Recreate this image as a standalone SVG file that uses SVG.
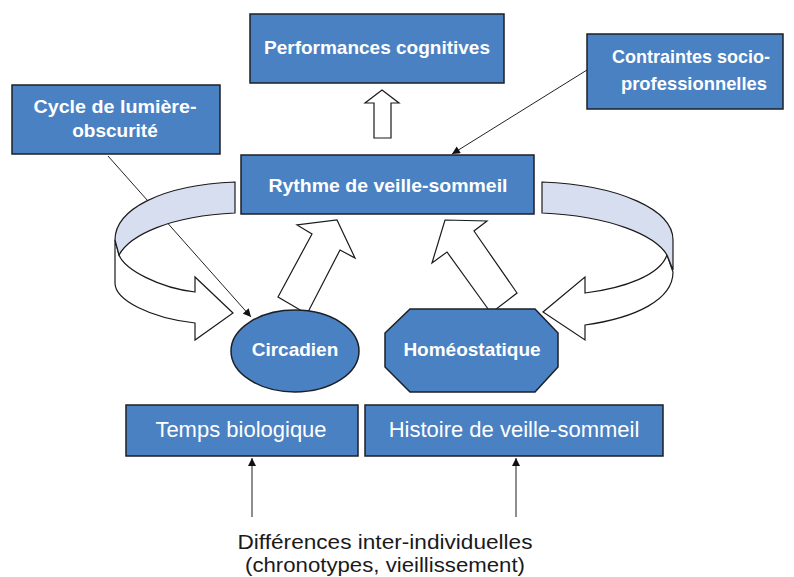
<svg xmlns="http://www.w3.org/2000/svg" width="794" height="577" viewBox="0 0 794 577">
<defs>
<style>
.box{fill:#4a81c2;stroke:#1c1f26;stroke-width:1.5}
.lb{font-family:"Liberation Sans",Arial,sans-serif;font-weight:bold;font-size:19px;fill:#ffffff;text-anchor:middle}
.lr{font-family:"Liberation Sans",Arial,sans-serif;font-size:22px;fill:#ffffff;text-anchor:middle}
.cap{font-family:"Liberation Sans",Arial,sans-serif;font-size:20px;fill:#1a1a1a;text-anchor:middle}
.thin{fill:none;stroke:#222;stroke-width:1}
.gray{fill:none;stroke:#444;stroke-width:1.2}
.hollow{fill:#ffffff;stroke:#1a1a1a;stroke-width:1.2;stroke-linejoin:miter}
.band{fill:#d6deef;stroke:#1a1a1a;stroke-width:1.2}
</style>
<marker id="ah" viewBox="0 0 10 10" refX="10" refY="5" markerWidth="9" markerHeight="8" markerUnits="userSpaceOnUse" orient="auto">
<path d="M0,0 L10,5 L0,10 Z" fill="#111"/>
</marker>
</defs>
<rect width="794" height="577" fill="#ffffff"/>

<g id="connectors">
<line class="thin" x1="587" y1="70" x2="452" y2="154" marker-end="url(#ah)"/>
<line class="thin" x1="108" y1="156" x2="251" y2="317" marker-end="url(#ah)"/>
<line class="gray" x1="252" y1="517" x2="252" y2="458" marker-end="url(#ah)"/>
<line class="gray" x1="516" y1="517" x2="516" y2="458" marker-end="url(#ah)"/>
<!-- up arrow Rythme -> Performances -->
<path class="hollow" d="M382,90 L399,103 L391,103 L391,138 L374,138 L374,103 L365,103 Z"/>
<!-- Circadien -> Rythme -->
<path class="hollow" d="M337,220 L355,258 L340,250 L307,314 L278,297 L312,234 L297,225 Z"/>
<!-- Homeostatique -> Rythme -->
<path class="hollow" d="M445,220 L487,221 L474,231 L517,293 L491,313 L447,252 L432,263 Z"/>
<!-- left curved arrow -->
<path class="hollow" d="M115,240 L115,283 C115,300 150,318 195,323 L195,340 L233,313 L195,277 L195,292 C160,288 125,270 119,255 Z"/>
<path class="band" d="M235,182 L235,213 C170,216 130,235 119,255 L115,240 C115,210 160,185 235,182 Z"/>
<!-- right curved arrow -->
<path class="hollow" d="M667,255 C660,275 625,288 585,293 L585,277 L543,312 L585,340 L585,325 C635,318 673,300 673,272 Z"/>
<path class="band" d="M542,182 C620,185 673,210 673,240 L673,270 L667,255 C655,235 610,216 542,213 Z"/>
</g>

<g id="performances">
<rect class="box" x="250" y="14" width="254" height="69"/>
<text class="lb" x="377" y="54">Performances cognitives</text>
</g>

<g id="contraintes">
<rect class="box" x="587" y="34" width="196" height="75"/>
<text class="lb" x="691" y="63" textLength="158" lengthAdjust="spacingAndGlyphs">Contraintes socio-</text>
<text class="lb" x="694" y="90" textLength="146" lengthAdjust="spacingAndGlyphs">professionnelles</text>
</g>

<g id="cycle">
<rect class="box" x="12" y="85" width="208" height="69"/>
<text class="lb" x="115" y="113" textLength="163" lengthAdjust="spacingAndGlyphs">Cycle de lumière-</text>
<text class="lb" x="115" y="137">obscurité</text>
</g>

<g id="rythme">
<rect class="box" x="241" y="155" width="293" height="59"/>
<text class="lb" x="388" y="192" textLength="239" lengthAdjust="spacingAndGlyphs">Rythme de veille-sommeil</text>
</g>

<g id="circadien">
<ellipse class="box" cx="295" cy="351" rx="64" ry="41"/>
<text class="lb" x="295" y="356">Circadien</text>
</g>

<g id="homeostatique">
<path class="box" d="M410,309 L535,309 L558,333 L558,367 L535,392 L410,392 L385,367 L385,333 Z"/>
<text class="lb" x="472" y="356">Homéostatique</text>
</g>

<g id="temps">
<rect class="box" x="126" y="405" width="232" height="51"/>
<text class="lr" x="241" y="437">Temps biologique</text>
</g>

<g id="histoire">
<rect class="box" x="365" y="405" width="298" height="51"/>
<text class="lr" x="514" y="437">Histoire de veille-sommeil</text>
</g>

<g id="differences">
<text class="cap" x="385" y="549" textLength="295" lengthAdjust="spacingAndGlyphs">Différences inter-individuelles</text>
<text class="cap" x="385" y="572" textLength="280" lengthAdjust="spacingAndGlyphs">(chronotypes, vieillissement)</text>
</g>
</svg>
